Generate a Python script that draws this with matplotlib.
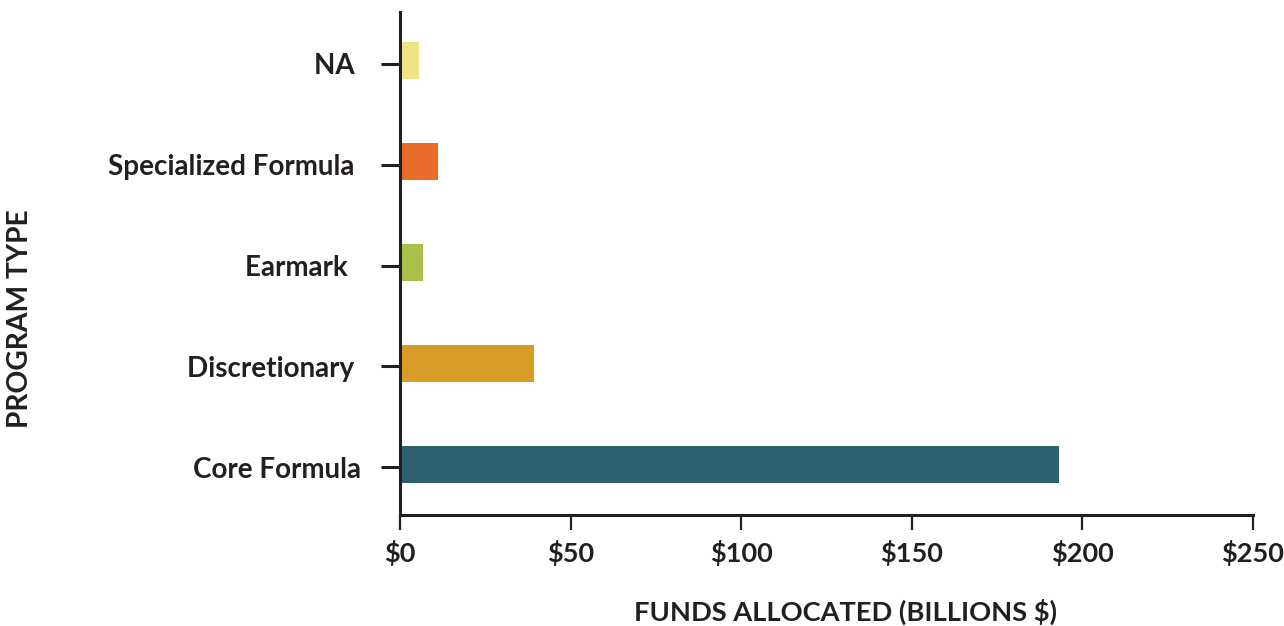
import matplotlib
matplotlib.use("Agg")
from matplotlib import pyplot as plt

# data
programs = ["Core Formula", "Discretionary ", "Earmark  ", "Specialized Formula ", "NA "]
funds = [193.1, 39.3, 6.7, 11.1, 5.6]
colors = ["#2D6273", "#DA9C28", "#A8C047", "#E96C2B", "#F0E384"]
xticks = [0, 50, 100, 150, 200, 250]
xtick_labels = ["$0", "$50", "$100", "$150", "$200", "$250"]

plt.rcParams["font.family"] = ["Lato", "DejaVu Sans"]
dark = "#231F20"

fig = plt.figure(figsize=(12.84, 6.26), dpi=100)
ax = fig.add_axes([400 / 1284, 1 - 515 / 626, 853 / 1284, 503 / 626])

ax.barh([i + 0.03 for i in range(len(programs))], funds, height=0.367, color=colors)

ax.set_xlim(0, 250)
ax.set_ylim(-0.476, 4.516)
ax.set_xticks(xticks)
ax.set_xticklabels(xtick_labels, fontsize=19.5, fontweight="bold", color=dark)
ax.set_yticks(range(len(programs)))
ax.set_yticklabels(programs, fontsize=20, fontweight="bold", color=dark)

ax.tick_params(axis="y", length=14, width=2.2, color=dark, pad=14)
ax.tick_params(axis="x", length=11, width=1.6, color=dark, pad=7)

for side in ["top", "right"]:
    ax.spines[side].set_visible(False)
for side in ["left", "bottom"]:
    ax.spines[side].set_linewidth(2.2)
    ax.spines[side].set_color(dark)

fig.text(845 / 1284, 1 - 612 / 626, "FUNDS ALLOCATED (BILLIONS $)", ha="center", va="center",
         fontsize=19.6, fontweight="bold", color=dark)
fig.text(20 / 1284, 1 - 319 / 626, "PROGRAM TYPE", ha="center", va="center", rotation=90,
         fontsize=20.3, fontweight="bold", color=dark)

plt.savefig("out.png", dpi=100)
